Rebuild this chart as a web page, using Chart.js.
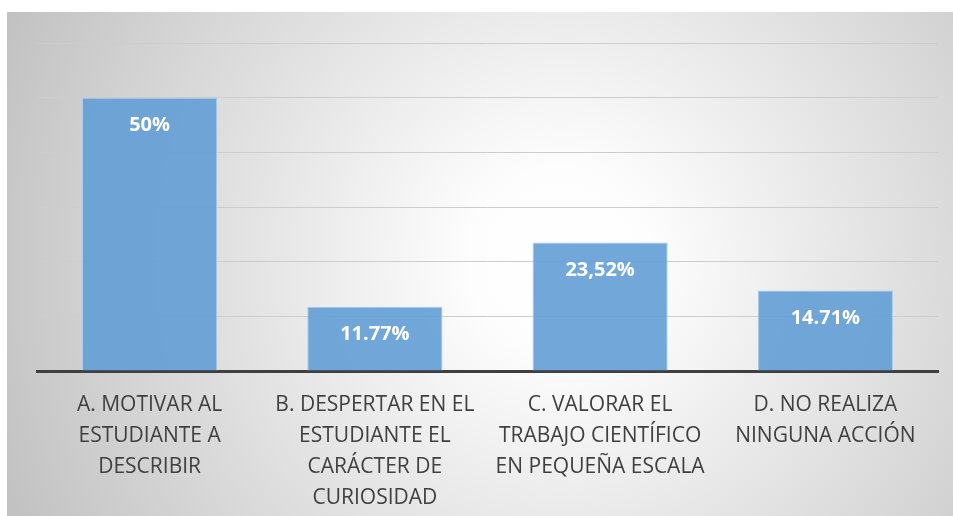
<!DOCTYPE html>
<html>
<head>
<meta charset="utf-8">
<script src="https://cdn.jsdelivr.net/npm/chart.js@4/dist/chart.umd.min.js"></script>
<style>
    html, body { margin: 0; padding: 0; background: #fff; }
    #wrap { width: 953px; height: 516px; }
</style>
</head>
<body>
<div id="wrap"><canvas id="myChart" width="953" height="516"></canvas></div>
<script>
var categories = [
    ["A. MOTIVAR AL", "ESTUDIANTE A", "DESCRIBIR"],
    ["B. DESPERTAR EN EL", "ESTUDIANTE EL", "CARÁCTER DE", "CURIOSIDAD"],
    ["C. VALORAR EL", "TRABAJO CIENTÍFICO", "EN PEQUEÑA ESCALA"],
    ["D. NO REALIZA", "NINGUNA ACCIÓN"],
];
var values = [50, 11.77, 23.52, 14.71];
var valueLabels = ["50%", "11.77%", "23,52%", "14.71%"];
var yTicks = [0, 10, 20, 30, 40, 50, 60];

// fondo gris con degradado radial
var bgPlugin = {
    id: "bgPlugin",
    beforeDraw: function (chart) {
        var ctx = chart.ctx;
        ctx.save();
        ctx.fillStyle = "#ffffff";
        ctx.fillRect(0, 0, chart.width, chart.height);
        var g = ctx.createRadialGradient(560, 260, 0, 560, 260, 600);
        g.addColorStop(0, "#ffffff");
        g.addColorStop(0.15, "#fdfdfd");
        g.addColorStop(1, "#c2c2c2");
        ctx.fillStyle = g;
        ctx.fillRect(7, 12, chart.width - 7, chart.height - 12);
        ctx.restore();
    },
};

// etiquetas de valor dentro de las barras
var labelPlugin = {
    id: "labelPlugin",
    afterDatasetsDraw: function (chart) {
        var ctx = chart.ctx;
        var meta = chart.getDatasetMeta(0);
        ctx.save();
        ctx.fillStyle = "#ffffff";
        ctx.font = "bold 20px 'Open Sans', sans-serif";
        ctx.textAlign = "center";
        ctx.textBaseline = "middle";
        meta.data.forEach(function (bar, i) {
            ctx.fillText(valueLabels[i], bar.x, bar.y + 28);
        });
        ctx.restore();
    },
};

var ctx = document.getElementById("myChart").getContext("2d");
var myChart = new Chart(ctx, {
    type: "bar",
    data: {
        labels: categories,
        datasets: [
            {
                data: values,
                backgroundColor: "rgba(98, 157, 213, 0.9)",
                borderColor: "#a9cbea",
                borderWidth: 1,
                categoryPercentage: 0.6,
                barPercentage: 1,
            },
        ],
    },
    options: {
        responsive: false,
        animation: false,
        layout: {
            padding: { left: 37, right: 15, top: 43, bottom: 0 },
        },
        plugins: {
            legend: { display: false },
            tooltip: { enabled: false },
        },
        scales: {
            x: {
                afterFit: function (axis) {
                    axis.height = 145;
                },
                grid: { display: false, drawTicks: false },
                border: { display: true, color: "#3f3f3f", width: 3 },
                ticks: {
                    color: "#404040",
                    font: { family: "'Open Sans', sans-serif", size: 21, lineHeight: 1.485 },
                    padding: 18,
                    maxRotation: 0,
                    autoSkip: false,
                },
            },
            y: {
                min: 0,
                max: 60,
                afterBuildTicks: function (axis) {
                    axis.ticks = yTicks.map(function (v) { return { value: v }; });
                },
                afterFit: function (axis) {
                    axis.width = 0;
                },
                grid: { color: "#cdcdcd", lineWidth: 1, drawTicks: false },
                border: { display: false },
                ticks: { display: false },
            },
        },
    },
    plugins: [bgPlugin, labelPlugin],
});
</script>
</body>
</html>
